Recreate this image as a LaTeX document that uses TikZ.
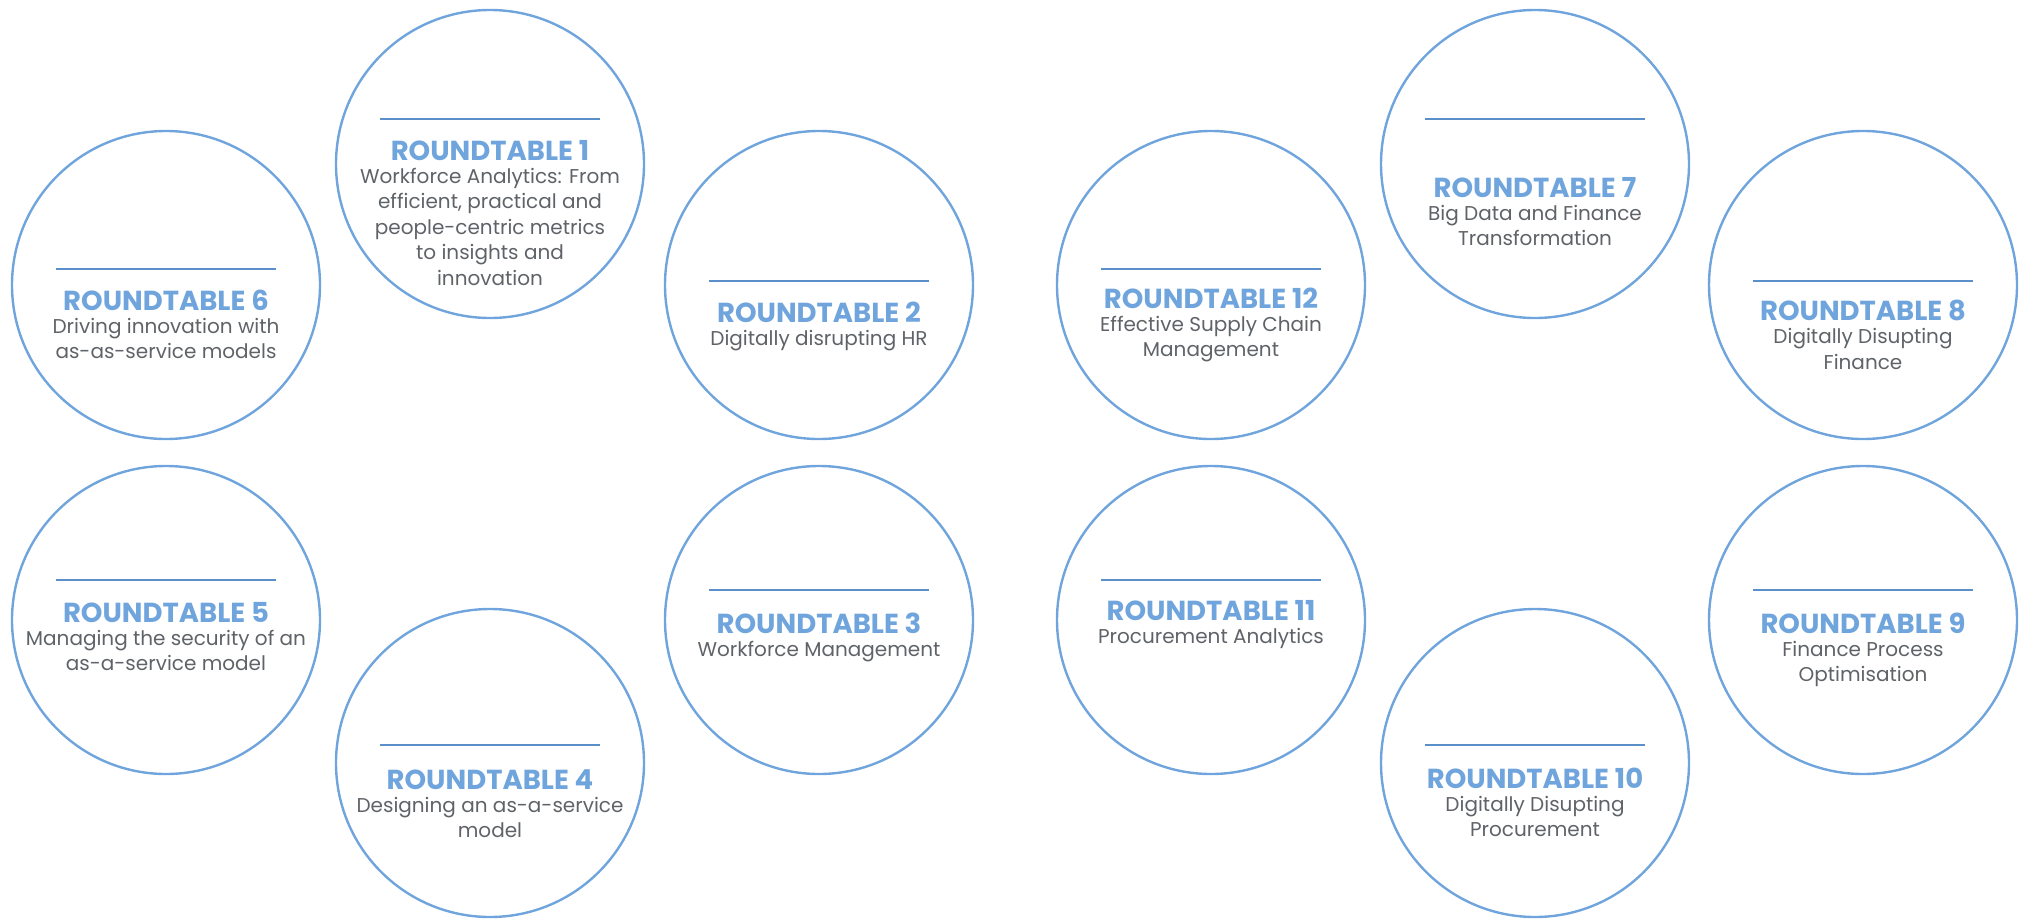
\documentclass[tikz,border=0pt]{standalone}
\usepackage{fontspec}
\setmainfont{Poppins}
\usetikzlibrary{positioning}
\definecolor{rtblue}{HTML}{6FA5DC}
\definecolor{rtline}{HTML}{5B8FC9}
\definecolor{rttext}{HTML}{5F6368}

\begin{document}
\begin{tikzpicture}[x=1pt,y=-1pt,
    roundtable/.style={circle,draw=rtblue,line width=2.4pt,minimum size=308pt,inner sep=0pt},
    rttitle/.style={text=rtblue,font=\fontsize{27.5}{30}\selectfont\bfseries,inner sep=0pt,anchor=base},
    rtbody/.style={text=rttext,font=\fontsize{20}{25.5}\selectfont,align=center,inner sep=0pt},
    rtrule/.style={draw=rtline,line width=2pt}]
        % page frame
        \useasboundingbox (0,0) rectangle (2027,919);
        % draw the roundtables: number/x/y/rule y/title y/text
        \foreach \n/\cx/\cy/\ly/\ty/\txt in {
            6/166/285/269/310/{Driving innovation with\\as-as-service models},
            1/490/164/119/160/{Workforce Analytics: From\\efficient, practical and\\people-centric metrics\\to insights and\\innovation},
            2/819/285/281/322/{Digitally disrupting HR},
            5/166/620/580/622/{Managing the security of an\\as-a-service model},
            4/490/763/745/789/{Designing an as-a-service\\model},
            3/819/620/590/633/{Workforce Management},
            12/1211/285/269/308/{Effective Supply Chain\\Management},
            7/1535/164/119/197/{Big Data and Finance\\Transformation},
            8/1863/285/281/320/{Digitally Disupting\\Finance},
            11/1211/620/580/620/{Procurement Analytics},
            10/1535/763/745/788/{Digitally Disupting\\Procurement},
            9/1863/620/590/633/{Finance Process\\Optimisation}}
        {
            \node[roundtable] (rt\n) at (\cx,\cy) {};
            % rule above the title
            \coordinate (la\n) at (\cx-110,\ly);
            \coordinate (lb\n) at (\cx+110,\ly);
            \draw[rtrule] (la\n) -- (lb\n);
            % title and text
            \node[rttitle] (t\n) at (\cx,\ty) {ROUNDTABLE \n};
            \node[rtbody,below=5pt of t\n] (b\n) {\strut\txt};
        }
\end{tikzpicture}
\end{document}
